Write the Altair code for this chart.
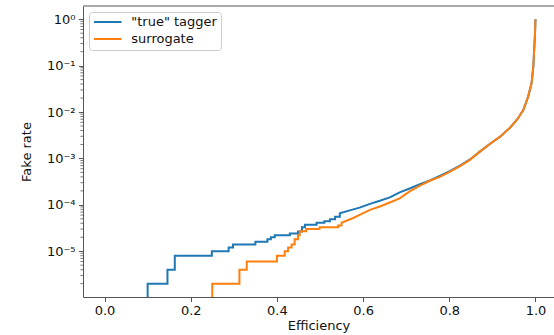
import altair as alt
import pandas as pd

# ---- data -------------------------------------------------------------
series_names = ['"true" tagger', "surrogate"]
series_colors = ["#1f77b4", "#ff7f0e"]

y_floor = 1.03e-6  # lower edge of the axis (curves start from below it)

# step part: (efficiency, fake rate level after the step)
true_step_x = [0.100, 0.146, 0.163, 0.249, 0.288, 0.298, 0.350, 0.378, 0.386,
               0.395, 0.430, 0.449, 0.458, 0.465, 0.492, 0.510, 0.523, 0.535,
               0.546]
true_step_y = [2e-6, 4e-6, 8e-6, 1.0e-5, 1.2e-5, 1.4e-5, 1.6e-5, 1.8e-5, 2.0e-5,
               2.2e-5, 2.4e-5, 2.65e-5, 3.3e-5, 3.7e-5, 4.1e-5, 4.4e-5, 4.9e-5, 5.5e-5,
               6.6e-5]
# finely stepped part (many tiny steps): drawn point to point
true_smooth_x = [0.569, 0.592, 0.616, 0.639, 0.662, 0.685, 0.708, 0.732,
                 0.755, 0.778, 0.801, 0.825, 0.848, 0.871, 0.894, 0.918, 0.941,
                 0.958, 0.972, 0.983, 0.991, 0.995, 0.997, 0.999, 1.0]
true_smooth_y = [7.6e-5, 8.7e-5, 1.05e-4, 1.22e-4, 1.45e-4, 1.85e-4, 2.25e-4, 2.8e-4,
                 3.35e-4, 4.2e-4, 5.3e-4, 7.0e-4, 9.5e-4, 1.4e-3, 2.05e-3, 2.95e-3, 4.6e-3,
                 7.0e-3, 1.12e-2, 2.15e-2, 4.2e-2, 9.6e-2, 0.22, 0.5, 1.0]

sur_step_x = [0.250, 0.313, 0.330, 0.400, 0.418, 0.426, 0.434, 0.441, 0.449,
              0.453, 0.468, 0.499, 0.542, 0.550]
sur_step_y = [2e-6, 4e-6, 6e-6, 8e-6, 1.0e-5, 1.2e-5, 1.4e-5, 1.8e-5, 2.2e-5,
              2.7e-5, 3.0e-5, 3.3e-5, 3.6e-5, 4.1e-5]
sur_smooth_x = [0.577, 0.592, 0.616, 0.639, 0.662, 0.685, 0.708, 0.732,
                0.755, 0.778, 0.801, 0.825, 0.848, 0.871, 0.894, 0.918, 0.941,
                0.958, 0.972, 0.983, 0.991, 0.995, 0.997, 0.999, 1.0]
sur_smooth_y = [5.2e-5, 6.1e-5, 7.8e-5, 9.2e-5, 1.12e-4, 1.38e-4, 1.95e-4, 2.6e-4,
                3.3e-4, 4.0e-4, 5.1e-4, 6.8e-4, 9.3e-4, 1.4e-3, 2.05e-3, 2.95e-3, 4.6e-3,
                7.0e-3, 1.12e-2, 2.15e-2, 4.2e-2, 9.6e-2, 0.22, 0.5, 1.0]

x_ticks = [0.0, 0.2, 0.4, 0.6, 0.8, 1.0]
y_ticks = [1e0, 1e-1, 1e-2, 1e-3, 1e-4, 1e-5]
y_tick_labels = ["10⁰", "10⁻¹", "10⁻²", "10⁻³", "10⁻⁴", "10⁻⁵", "10⁻⁶"]
y_minor = [m * 10.0 ** e for e in range(-6, 1) for m in range(2, 10)]
y_minor = [v for v in y_minor if y_floor < v < 1.93]


def build(name, sx, sy, mx, my):
    rows = []
    prev = y_floor
    for x, y in zip(sx, sy):
        rows.append((x, prev))
        rows.append((x, y))
        prev = y
    for x, y in zip(mx, my):
        rows.append((x, y))
    return pd.DataFrame({"series": name, "x": [r[0] for r in rows],
                         "y": [r[1] for r in rows], "i": range(len(rows))})


df = pd.concat([
    build(series_names[0], true_step_x, true_step_y, true_smooth_x, true_smooth_y),
    build(series_names[1], sur_step_x, sur_step_y, sur_smooth_x, sur_smooth_y),
])

FONT = "DejaVu Sans"
AX = "#555555"

x_scale = alt.Scale(domain=[-0.05, 1.043], nice=False, zero=False)
y_scale = alt.Scale(type="log", domain=[y_floor, 1.93], nice=False)

label_expr = "[" + ",".join("'%s'" % s for s in y_tick_labels) + "][-round(log(datum.value)/LN10)]"

lines = alt.Chart(df).mark_line(strokeWidth=2, clip=True).encode(
    x=alt.X("x:Q", scale=x_scale, title="Efficiency",
            axis=alt.Axis(values=x_ticks, format=".1f", grid=False, tickSize=4.6,
                          labelPadding=3, titlePadding=2)),
    y=alt.Y("y:Q", scale=y_scale, title="Fake rate",
            axis=alt.Axis(values=y_ticks, labelExpr=label_expr, grid=False,
                          tickSize=4.6, labelPadding=3.4, titlePadding=13)),
    color=alt.Color("series:N",
                    scale=alt.Scale(domain=series_names, range=series_colors),
                    legend=alt.Legend(title=None, orient="top-left", offset=6,
                                      padding=3.5, rowPadding=3,
                                      symbolType="M-2.5,0H2.5", symbolSize=121,
                                      symbolStrokeWidth=2, symbolOffset=8.75,
                                      labelOffset=17,
                                      labelFontSize=13, labelFont=FONT,
                                      labelColor="#111111",
                                      strokeColor="#cccccc", cornerRadius=3,
                                      fillColor="white")),
    order="i:Q",
)

minor = alt.Chart(pd.DataFrame({"y": y_minor})).mark_rule(
    color=AX, strokeWidth=0.8).encode(
    y=alt.Y("y:Q", scale=y_scale),
    x=alt.value(-2.6), x2=alt.value(0),
)

top_spine = alt.Chart(pd.DataFrame({"y": [1.93]})).mark_rule(
    color=AX, strokeWidth=1).encode(
    y=alt.Y("y:Q", scale=y_scale), x=alt.value(0), x2=alt.value("width"),
)

chart = alt.layer(minor, top_spine, lines).properties(
    width=471, height=291,
    autosize=alt.AutoSizeParams(type="none"),
    padding={"left": 83, "top": 6, "right": 0, "bottom": 38},
).configure_view(stroke=None).configure_axis(
    labelFont=FONT, titleFont=FONT, labelFontSize=13, titleFontSize=13,
    titleFontWeight="normal", labelColor="#111111", titleColor="#111111",
    domainColor=AX, tickColor=AX, domainWidth=1, tickWidth=1,
)

chart.save("out.html", embed_options={"renderer": "svg", "actions": False})
